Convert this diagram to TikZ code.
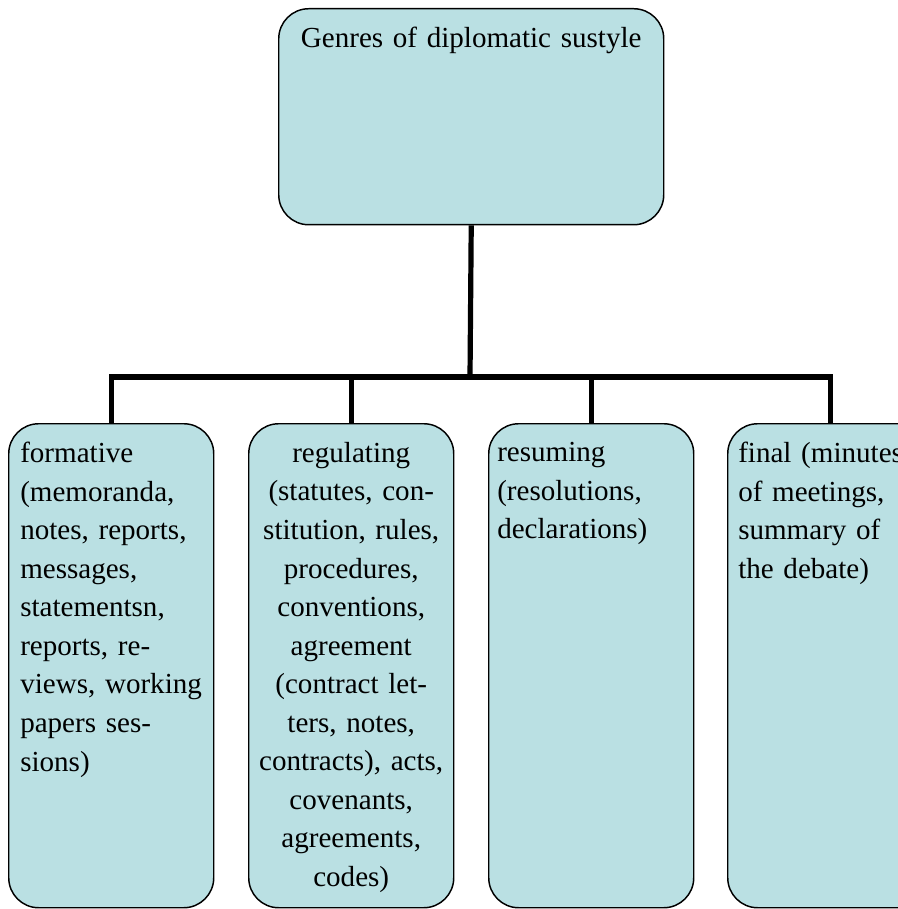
\documentclass[tikz,border=0pt]{standalone}
\usepackage{fontspec}
\setmainfont{Liberation Serif}
\usetikzlibrary{calc}
\definecolor{boxfill}{RGB}{186,224,227}
\tikzset{genre/.style={draw=black, fill=boxfill, line width=1.1pt, rounded corners=22.5pt,
  minimum width=153.75pt, minimum height=363pt, inner sep=0pt, anchor=north west}}
\tikzset{boxtext/.style={inner sep=0pt, anchor=north west, align=left, text width=150pt,
  font=\fontsize{21.8pt}{28.9pt}\selectfont}}
\tikzset{link/.style={line width=3.9pt, line join=miter}}

\begin{document}
\begin{tikzpicture}[x=0.75pt, y=-0.75pt]
  \useasboundingbox (0,0) rectangle (898,909);
  \clip (0,0) rectangle (898,909);
  % boxes
  \node[genre, minimum width=288.75pt, minimum height=162pt] (root) at (278,8) {};
  \node[genre] (form) at (8,423) {};
  \node[genre] (regul) at (248,423) {};
  \node[genre] (resum) at (488,423) {};
  \node[genre] (final) at (727,423) {};
  % tree lines
  \coordinate (hub) at (470,377);
  \draw[link] (root.south) -- (hub);
  \draw[link] (form.north) |- (hub) -| (final.north);
  \draw[link] (regul.north) -- (regul.north |- hub);
  \draw[link] (resum.north) -- (resum.north |- hub);
  % texts
  \node[boxtext, text width=280pt, anchor=north, align=center] (roottext) at ($(root.north)+(0,19)$)
    {Genres of diplomatic sustyle};
  \node[boxtext] (formtext) at ($(form.north west)+(12,19)$)
    {formative\\(memoranda,\\notes, reports,\\messages,\\statementsn,\\reports, re-\\views, working\\papers ses-\\sions)};
  \node[boxtext, anchor=north, align=center] (regultext) at ($(regul.north)+(0,19)$)
    {regulating\\(statutes, con-\\stitution, rules,\\procedures,\\conventions,\\agreement\\(contract let-\\ters, notes,\\contracts), acts,\\covenants,\\agreements,\\codes)};
  \node[boxtext] (resumtext) at ($(resum.north west)+(9,19)$)
    {resuming\\(resolutions,\\declarations)};
  \node[boxtext] (finaltext) at ($(final.north west)+(11,19)$)
    {final (minutes\\of meetings,\\summary of\\the debate)};
\end{tikzpicture}
\end{document}
